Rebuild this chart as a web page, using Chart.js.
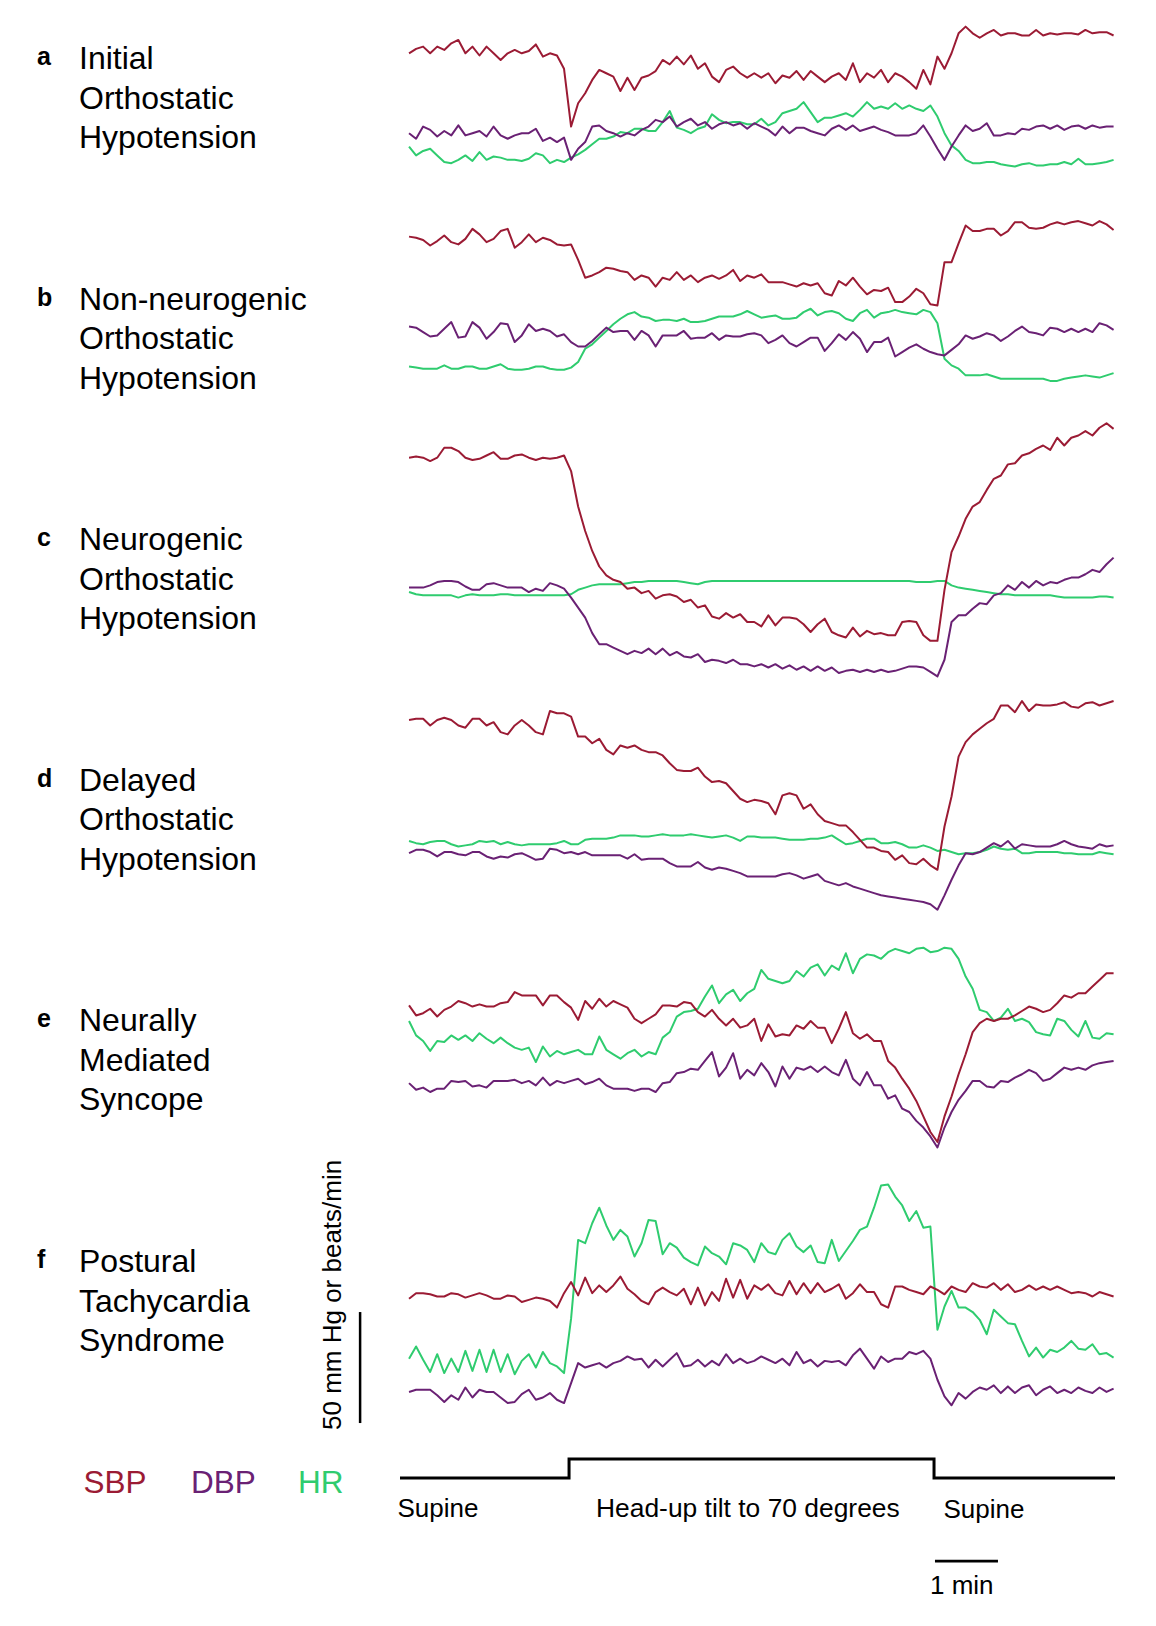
<!DOCTYPE html>
<html>
<head>
<meta charset="utf-8">
<title>Orthostatic responses</title>
<script src="https://cdn.jsdelivr.net/npm/chart.js@4.4.1/dist/chart.umd.min.js"></script>
<style>
  html, body { margin: 0; padding: 0; background: #fff; }
  #page {
    position: relative; width: 1156px; height: 1626px; overflow: hidden;
    font-family: "Liberation Sans", Arial, sans-serif; color: #000;
  }
  #page canvas { position: absolute; }
  .letter { position: absolute; left: 37px; font-weight: bold; font-size: 25px; line-height: 24px; }
  .title { position: absolute; left: 79px; font-size: 32px; line-height: 39.5px; white-space: nowrap; }
  .lbl { position: absolute; font-size: 26px; line-height: 26px; white-space: nowrap; }
  .legend { position: absolute; top: 1467.1px; font-size: 31.5px; line-height: 30px; }
  #scaleText { left: 319px; top: 1430px; transform-origin: 0 0; transform: rotate(-90deg); }
</style>
</head>
<body>
<div id="page">
  <div class="letter" style="top:44.2px">a</div>
  <div class="title" style="top:39.1px">Initial<br>Orthostatic<br>Hypotension</div>
  <div class="letter" style="top:284.7px">b</div>
  <div class="title" style="top:279.6px">Non-neurogenic<br>Orthostatic<br>Hypotension</div>
  <div class="letter" style="top:525.2px">c</div>
  <div class="title" style="top:520.1px">Neurogenic<br>Orthostatic<br>Hypotension</div>
  <div class="letter" style="top:765.7px">d</div>
  <div class="title" style="top:760.6px">Delayed<br>Orthostatic<br>Hypotension</div>
  <div class="letter" style="top:1006.2px">e</div>
  <div class="title" style="top:1001.1px">Neurally<br>Mediated<br>Syncope</div>
  <div class="letter" style="top:1247.2px">f</div>
  <div class="title" style="top:1242.1px">Postural<br>Tachycardia<br>Syndrome</div>

  <div class="lbl" id="scaleText">50 mm Hg or beats/min</div>

  <div class="legend" style="left:83.5px;color:#9b1b34">SBP</div>
  <div class="legend" style="left:191px;color:#6a2174">DBP</div>
  <div class="legend" style="left:298px;color:#2fcc6f">HR</div>

  <div class="lbl" style="left:397.5px;top:1495px">Supine</div>
  <div class="lbl" style="left:596px;top:1494.8px;font-size:26.4px">Head-up tilt to 70 degrees</div>
  <div class="lbl" style="left:943.5px;top:1496px">Supine</div>
  <div class="lbl" style="left:930px;top:1572px">1 min</div>
</div>

<script>
// beat-averaged samples, one every 6.71 s starting at 8.6 s (mm Hg / beats per min)
const SAMPLE_START = 8.6;
const SAMPLE_STEP = 6.71;

// tilt protocol (seconds)
const tiltOn = 161;
const tiltOff = 508.6;
const protocolEnd = 681;
const protocolTimes = [0, tiltOn, tiltOn, tiltOff, tiltOff, protocolEnd];
const protocolLevels = [0, 0, 1, 1, 0, 0];

// scale bars
const scaleBarMmHg = 50;
const scaleBarFrom = 63;
const scaleBarAt = -38;
const minuteBarStart = 509.5;
const minuteBarSec = 60;

// a: initial orthostatic hypotension
const sbpA = [125,127,128,125,128,126.5,129.5,131,125,128,
  124,128,125,122,125,126.5,125,126,129,123.5,
  125,124,118,92,102.5,107,113,117.5,116,114.5,
  108,114,108.5,114,115,117,122,120,123.5,120,
  124,118,120.5,114.5,112,117.5,119,116,114,116,
  114,116,111.5,115,114,117,113,117,114.5,112,
  114.5,116,113,120.5,112,116,114,117.5,112,116,
  114.5,112,109,117.5,111,123.5,118,125,134,137,
  134,132,134,135.5,133,134,134,133,133,135.5,
  133,134,133.5,134,134,133.5,135.5,134,134.5,134.5,133];
const dbpA = [89,86.5,92,90.5,87.5,90,88,92.5,88,89,
  90,87.5,92,88,86.5,88,89,89,91,85.5,
  87,85,87,77,82,85,92,92.5,90,89,
  87.5,89,88,90.5,92,95,94,96.5,92,94,
  95.5,92.5,94,91,93,94,92.5,93.5,91,93.5,
  92,90.5,88,92,89,91.5,91.5,90,89,88,
  91,92.5,90.5,92.5,90,91,92,90.5,89.5,88,
  88,88,89,92.5,87.5,82,77,83,88,92.5,
  90,91,93.5,88,88,89,88.5,91,90.5,92,
  92.5,91,92.5,90.5,92,92.5,91,92.5,91.5,92,92];
const hrA = [83,79,81,82,79,76,75.5,77,79,76.5,
  80.5,77,78.5,78,77,77,76.5,77.5,80,79,
  75.5,77,76,78,79.5,81.5,84,86.5,86.5,87.5,
  89.5,89,91,91,90,90,94,99,91.5,90.5,
  89,91,92,97.5,95,93.5,94,94,93,93,
  95.5,92.5,94,98,99,100,103,98.5,94,96,
  96,97,98,96.5,99.5,103,100,101,100,102.5,
  100,101.5,100,99,101.5,96.5,89,83.5,81,77,
  75.5,75.5,76,76,75,74.5,74,75,75.5,74.5,
  74.5,75,75,76,75,77.5,75,75,75.5,76,77];

// b: non-neurogenic orthostatic hypotension
const sbpB = [123.5,123,122,119.5,121.5,124,121,120,122.5,127,
  124.5,121,122.5,126,127,118.5,121,124.5,121,123,
  122,120,119.5,120,113,105,106,107.5,109.5,109,
  108,107.5,104,106,105,101,105,104,107.5,104,
  106,103,105,106,104.5,106,108.5,103.5,106,105,
  106.5,103,103,103,102,101,102.5,101.5,102.5,98,
  97,103.5,101.5,105,101,97.5,99.5,99,100.5,94,
  94,96.5,100,98,93,92.5,112,112,120.5,128.5,
  126,126,127,127,124,126,130,130,127.5,127,
  127.5,129,130,129,130,130.5,129.5,128.5,130.5,129,126.5];
const dbpB = [83,82.5,80.5,78.5,79,82,85,78,78.5,85,
  82.5,77.5,80.5,84.5,84,76,79,84,81,82,
  81,78.5,79.5,76,74,74,76.5,79.5,82.5,80.5,
  81,81,77,81,79,74,79,79,79,81,
  77.5,78,78,80,77,79,78.5,78.5,79.5,80,
  79,75.5,77,79,75.5,74,76,78,78,72,
  75.5,79.5,77,80.5,77.5,71.5,76,76,78,69.5,
  71.5,73.5,75,73,71.5,70.5,70,72.5,75,79,
  77.5,78.5,80,79,76.5,78.5,81,83,80.5,80,
  79,82.5,82,80.5,82,80.5,82,80.5,84.5,83.5,81.5];
const hrB = [65,64.5,64,64,64,65.5,64,64,65,65,
  64,64,65,66,64,63.5,63.5,64,65,65,
  64,63.5,63.5,64.5,67,73,75,78,81,84,
  86.5,88.5,89.5,87.5,87,85.5,86,86,85.5,86.5,
  85,85,85.5,86.5,87.5,87.5,87.5,88.5,90,88.5,
  87,87.5,88,86.5,86.5,87,89.5,91,88,89.5,
  90,89,86.5,85.5,89,90.5,87,89,89.5,90.5,
  89.5,89,88.5,90.5,89.5,84.5,68.5,65.5,64,61,
  61,61,61.5,60.5,59.5,59.5,59.5,59.5,59.5,59.5,
  59.5,58.5,58.5,59.5,60,60.5,61,60.5,60,61,62];

// c: neurogenic orthostatic hypotension
const sbpC = [124,124.5,124,122.5,124,128.5,128.5,127,124,123,
  123.5,125,126.5,123.5,123.5,125,125.5,124,123,124,
  123.5,124,125,118,102,91,82,75,71,69,
  68,65,65.5,63,64,60.5,62,62.5,61.5,59,
  60,56.5,57.5,52.5,51.5,54,52,53.5,50,50,
  48,53,48.5,52,52,51.5,49,45.5,49,51.5,
  45.5,44,43,47.5,43.5,46,44.5,45,44,44,
  50,50.5,50,44,41.5,41.5,64.5,81.5,88.5,96.5,
  102,104,109.5,114.5,116,121,121.5,125,126,128,
  129.5,127.5,133,129.5,133,134,136,134,137.5,139.5,137];
const dbpC = [65.5,65.5,65.5,66.5,68,68.5,68.5,68,66,64.5,
  64.5,67,67.5,66.5,65.5,65.5,65.5,63.5,65,64,
  67.5,66.5,65,61,56.5,52,45,40,40,38.5,
  37,35.5,37,36,38,35.5,38,35,36.5,34.5,
  34,35.5,32,33,32.5,31.5,33,31,31,30,
  31,29.5,31,29,30.5,28.5,30,28,30,28,
  29.5,27,28,28.5,27.5,28.5,27.5,28.5,27.5,28,
  29,30,30,29.5,27.5,25.5,33,50,53,53,
  56,58.5,58,62,63,66.5,64.5,68,65.5,68.5,
  66.5,68,67.5,69,70,70,71.5,73.5,72.5,76,79];
const hrC = [63.5,62.5,62,62,62,62,62,61,62,62.5,
  62,62,62,62.5,62.5,62,62,62,62,62,
  62,62,62,62.5,64.5,65.5,66.5,67,67,67,
  67,67.5,68,68,68.5,68.5,68.5,68.5,68.5,68,
  67.5,67,68,68.5,68.5,68.5,68.5,68.5,68.5,68.5,
  68.5,68.5,68.5,68.5,68.5,68.5,68.5,68.5,68.5,68.5,
  68.5,68.5,68.5,68.5,68.5,68.5,68.5,68.5,68.5,68.5,
  68.5,68.5,68,68,68,68.5,68.5,66.5,65.5,65,
  64.5,64,63.5,63,62.5,62.5,62,62,62,62,
  62,62,61.5,61,61,61,61,61,61.5,61.5,61];

// d: delayed orthostatic hypotension
const sbpD = [122.5,123,123,120,122.5,123.5,122.5,120,119,123,
  123,120,121.5,117,116,120,122.5,120,117,116,
  126.5,125.5,125.5,124,115,115,112,114,109,107,
  111,110,111,109,108,108,106.5,103,100,99.5,
  99.5,101,97,94.5,95,94,90.5,87,85.5,86.5,
  86,85,80,88.5,89.5,88.5,82.5,84.5,80,77,
  76,75,75,72,68.5,65,65,63.5,63,59.5,
  61.5,58,57.5,60,57,55,74.5,88,106,112.5,
  116,118.5,121,123,129,129,126,131,126.5,129.5,
  129,129,129.5,130.5,128.5,128,130,130.5,129,130,131];
const dbpD = [62.5,64,64,63,61,63,63,62,61.5,63,
  63,61,60,61,60.5,62,62.5,61,59.5,60,
  64.5,64,62.5,63,62,63,61.5,61.5,61.5,61.5,
  61.5,60,62,59.5,60,60,60,58,56.5,56.5,
  56.5,58.5,56,55,56,55.5,54.5,53.5,52,52,
  52,52,52,53,53.5,52.5,51,52,53,50,
  49,48,49,47.5,46.5,45.5,44.5,43.5,43,42.5,
  42,41.5,41,40.5,39.5,37,43.5,50.5,57,62.5,
  62,63,65,67,65.5,68,64.5,66.5,66,65.5,
  65.5,65.5,66.5,68,66.5,65.5,65,64.5,66.5,65.5,66];
const hrD = [68,67,66.5,67.5,68,68,66.5,65.5,66,66.5,
  68,67.5,68,66.5,67.5,66.5,66,66.5,66.5,66.5,
  66.5,67,68,66.5,66.5,68.5,69,69,69,69.5,
  70.5,70.5,70.5,70,70,70.5,71,70.5,70.5,70.5,
  71,70.5,70,69.5,70,70.5,69.5,68,70,70,
  69.5,69.5,69.5,69,68.5,68.5,68.5,69,69,69.5,
  70.5,68.5,66.5,67,68,69,69,67,67,67.5,
  66.5,65,65,66,65,63.5,64,63,62,62.5,
  62.5,63,64,65.5,64.5,64,64.5,62.5,62.5,63,
  63,63,63,62.5,62.5,62,62,62,63,62.5,62];

// e: neurally mediated syncope
const sbpE = [118,113.5,114.5,116.5,113,116,117.5,120,119,117.5,
  118.5,117.5,117.5,119,119.5,124,122.5,122.5,122.5,118,
  122.5,122.5,119.5,117,111.5,120,116.5,121,117.5,120,
  118.5,117,112,110,112,114,118,118,117.5,119.5,
  119,115,113,116,112,109,112,108,109,112,
  102,109.5,104,105,104.5,109,107.5,111,108,108,
  101,107.5,115,105.5,103,105,102,102,93,90,
  85,80.5,75,68,61,56.5,68,77,87,96,
  106,110,112,111,112,112,113.5,115.5,117.5,116.5,
  115,116,119,122.5,121.5,123.5,123.5,126.5,129.5,132.5,132.5];
const dbpE = [83,80,81,79,80.5,80.5,84,83.5,84,81.5,
  82,81,84,84,84,84.5,83,84,82,85.5,
  82,84,83,84,85,82.5,83.5,85,82,80.5,
  80.5,80.5,79.5,80.5,80.5,79,83,83.5,87.5,88,
  89.5,89,93,97,86,90,96.5,85,89,86.5,
  92,88,81.5,90.5,85,90,89,90.5,88,90.5,
  88,86.5,93.5,85,82,88,82,82,76,77.5,
  71.5,70,66,63,59,54,63,70,75.5,79.5,
  84,84,81.5,81,84,83.5,85.5,87,89,87.5,
  84,85,87.5,90,89,90,89,91,92,92.5,93];
const hrE = [111,104.5,102,97.5,102,101.5,104.5,102.5,104.5,102,
  105.5,103,101,103.5,101,99,98,99,92.5,99.5,
  95,97.5,96,97,98,96,96,104,98,96,
  94,96.5,98,95,97,96,103.5,106,113,115,
  115.5,116.5,122,127,119,123,125,120,123.5,125.5,
  134,130,129,128,129,133.5,131,135,136.5,131.5,
  136,134,141.5,132.5,139,141,140.5,139,142,143.5,
  142.5,141.5,143.5,144,142,142.5,144,143.5,139,131,
  125.5,116,115,111,112.5,116.5,111,112,110.5,106,
  105,104.5,112,111,107,104,111,103.5,103,105.5,105];

// f: postural tachycardia syndrome
const sbpF = [119,121.5,121.5,121,120,120,121.5,121,119.5,120.5,
  121.5,120.5,119,119,120.5,120,117.5,118.5,119.5,119,
  118,115,121.5,126.5,120.5,128.5,121.5,125,122,125,
  129,123.5,121,118,116.5,122,124,122,120.5,123.5,
  116.5,124,116,122,118,128,119.5,127.5,119,125,
  123,125.5,121.5,120.5,127,121,126,121.5,126,122,
  123.5,125.5,119,121.5,125.5,122,122,116.5,115,124.5,
  124.5,123,122,121,124.5,123,121,124.5,123,122,
  126,124.5,124,126,123,125.5,122,123,125,123,
  124.5,123,124.5,123,121.5,122,121.5,120,122,121,120];
const dbpF = [77,78,78,78,75.5,72.5,75.5,73.5,79,74.5,
  78,77,77,74.5,72,72.5,76,78,73.5,74.5,
  76.5,73.5,72,81,90,88,89,90,88,90,
  91,93,91.5,92,88,91.5,88.5,91.5,94.5,88.5,
  89,91.5,88.5,91,89,94,90,92,90,91,
  93,91.5,90,92,89,95,90,91.5,88.5,91,
  90.5,91,89,93.5,96.5,92,87.5,93,90.5,92,
  92,95,94,95.5,92,82.5,75,71,76.5,74,
  77,79,78,80,76.5,79.5,76.5,79,80,75.5,
  78,79.5,76.5,78,76.5,79,77.5,76.5,79,77,78.5];
const hrF = [92,97.5,91.5,86,94,85.5,92,86,95.5,86.5,
  96,86,96,86,94,85,91,94,88,95,
  90,88.5,85.5,110,145.5,144,153,160,152,145.5,
  150,147,138,144,154.5,154,139,144,142,137.5,
  135.5,134,142.5,139.5,138,134.5,144,143,141,135.5,
  144,140,139,145.5,148.5,142.5,140,143,135.5,135,
  145.5,136,140.5,145,150,151.5,160,170,170.5,165,
  161,154,158.5,151,151.5,105,115.5,122.5,115,115,
  113,109.5,103,114,111,108,107.5,100,93,97,
  92.5,96,95,97,100,96.5,96,98.5,94,94.5,92.5];

// --- drawing ---
const COLORS = { sbp: '#9b1b34', dbp: '#6a2174', hr: '#2fcc6f', ink: '#000' };
const PX_PER_MMHG = 2.22;
const PX_PER_SEC = 1.05;
const PLOT_LEFT = 350, PLOT_WIDTH = 765, PANEL_HEIGHT = 300;
const X_MIN = -(400 - PLOT_LEFT) / PX_PER_SEC;
const X_MAX = X_MIN + PLOT_WIDTH / PX_PER_SEC;

const panels = [
  { sbp: sbpA, dbp: dbpA, hr: hrA, top: 0,    yMax: 149 },
  { sbp: sbpB, dbp: dbpB, hr: hrB, top: 190,  yMax: 144.5 },
  { sbp: sbpC, dbp: dbpC, hr: hrC, top: 400,  yMax: 150 },
  { sbp: sbpD, dbp: dbpD, hr: hrD, top: 660,  yMax: 149.5 },
  { sbp: sbpE, dbp: dbpE, hr: hrE, top: 890,  yMax: 170 },
  { sbp: sbpF, dbp: dbpF, hr: hrF, top: 1130, yMax: 195, scaleBar: true }
];

function toPoints(values) {
  return values.map((v, i) => ({ x: SAMPLE_START + i * SAMPLE_STEP, y: v }));
}

function trace(values, color, width) {
  return {
    data: values, borderColor: color, borderWidth: width || 2,
    pointRadius: 0, fill: false, tension: 0, clip: 6,
    borderJoinStyle: 'round'
  };
}

function addCanvas(left, top, w, h) {
  const c = document.createElement('canvas');
  c.width = w; c.height = h;
  c.style.left = left + 'px'; c.style.top = top + 'px';
  c.style.width = w + 'px'; c.style.height = h + 'px';
  document.getElementById('page').appendChild(c);
  return c;
}

function makeChart(canvas, datasets, yMin, yMax) {
  return new Chart(canvas, {
    type: 'line',
    data: { datasets: datasets },
    options: {
      responsive: false,
      animation: false,
      events: [],
      layout: { padding: 0 },
      plugins: { legend: { display: false }, tooltip: { enabled: false } },
      scales: {
        x: { type: 'linear', min: X_MIN, max: X_MAX, display: false },
        y: { type: 'linear', min: yMin, max: yMax, display: false }
      }
    }
  });
}

panels.forEach(p => {
  const canvas = addCanvas(PLOT_LEFT, p.top, PLOT_WIDTH, PANEL_HEIGHT);
  const sets = [
    trace(toPoints(p.sbp), COLORS.sbp),
    trace(toPoints(p.dbp), COLORS.dbp),
    trace(toPoints(p.hr), COLORS.hr)
  ];
  if (p.scaleBar) {
    const bar = trace([{ x: scaleBarAt, y: scaleBarFrom }, { x: scaleBarAt, y: scaleBarFrom + scaleBarMmHg }], COLORS.ink, 2.5);
    bar.borderCapStyle = 'butt';
    sets.push(bar);
  }
  makeChart(canvas, sets, p.yMax - PANEL_HEIGHT / PX_PER_MMHG, p.yMax);
});

// tilt protocol trace + 1 min bar
const protoCanvas = addCanvas(PLOT_LEFT, 1440, PLOT_WIDTH, 140);
const protoStep = trace(protocolTimes.map((t, i) => ({ x: t, y: protocolLevels[i] })), COLORS.ink, 3);
protoStep.borderJoinStyle = 'miter';
protoStep.borderCapStyle = 'butt';
const minuteBar = trace([{ x: minuteBarStart, y: -4.37 }, { x: minuteBarStart + minuteBarSec, y: -4.37 }], COLORS.ink, 2.7);
minuteBar.borderCapStyle = 'butt';
makeChart(protoCanvas, [protoStep, minuteBar], 2 - 140 / 19, 2);
</script>
</body>
</html>
